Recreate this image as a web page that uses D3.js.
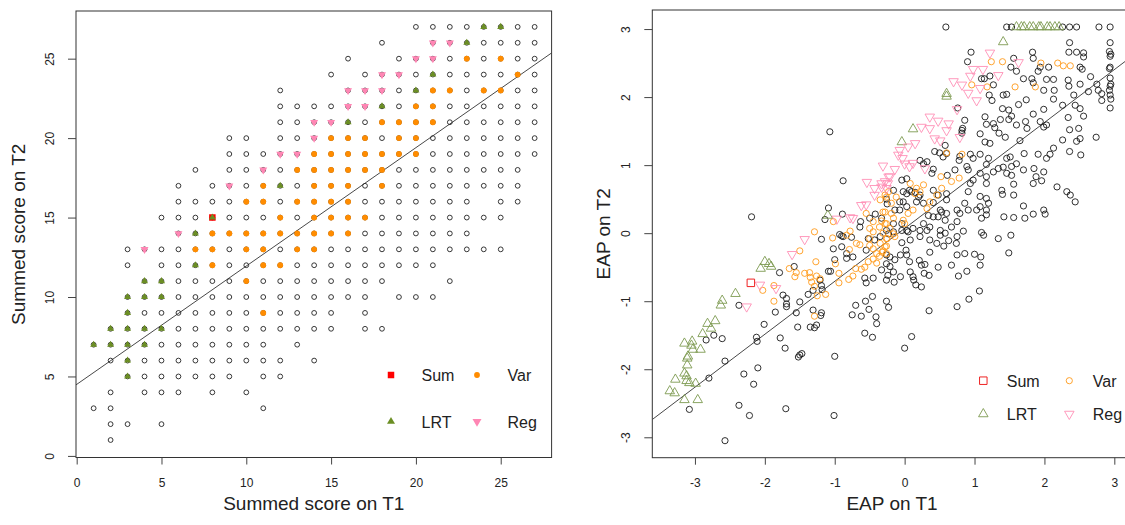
<!DOCTYPE html>
<html>
<head>
<meta charset="utf-8">
<script src="https://cdn.jsdelivr.net/npm/d3@7"></script>
<style>
  body { margin: 0; background: #fff; }
  svg text { font-family: "Liberation Sans", Arial, sans-serif; fill: #222; }
</style>
</head>
<body>
<svg id="chart" width="1125" height="525"></svg>
<script>
// ---------- left panel: summed scores, rows are [T2 score, [T1 scores]] ----------
const sumGridRows = [
  [27, [20,21,22,23,24,25,26,27]],
  [26, [18,21,22,23,24,25,26,27]],
  [25, [16,19,20,21,22,23,24,25,26,27]],
  [24, [15,17,18,19,20,21,22,23,24,25,26,27]],
  [23, [12,16,17,18,19,20,21,22,23,24,25,26,27]],
  [22, [12,13,14,15,16,17,18,19,20,21,22,23,24,25,26,27]],
  [21, [12,13,14,15,16,17,18,19,20,21,22,23,24,25,26,27]],
  [20, [9,10,12,13,14,15,16,17,18,19,20,21,22,23,24,25,26,27]],
  [19, [9,10,11,12,13,14,15,16,17,18,19,20,21,22,23,24,25,26,27]],
  [18, [7,9,10,11,12,13,14,15,16,17,18,19,20,21,22,23,24,25,26]],
  [17, [6,8,9,10,11,12,13,14,15,16,17,18,19,20,21,22,23,24,25,26]],
  [16, [6,7,8,9,10,11,12,13,14,15,16,17,18,19,20,21,22,23,25,26]],
  [15, [5,6,7,8,9,10,11,12,13,14,15,16,17,18,19,20,21,22,23,24,25]],
  [14, [6,7,8,9,10,11,12,13,14,15,16,17,18,19,20,21,22,23]],
  [13, [3,4,5,6,7,8,9,10,11,12,13,14,15,16,17,18,19,20,21,22,23,24,25]],
  [12, [3,5,6,7,8,9,10,11,12,13,14,15,16,17,18,19,20,21]],
  [11, [4,5,6,7,8,9,10,11,12,13,14,15,16,17,18,22]],
  [10, [3,4,5,6,7,8,9,10,11,12,13,14,15,16,17,19,20,21]],
  [9,  [3,4,5,6,7,8,9,10,11,12,13,14,15,17]],
  [8,  [2,3,4,5,6,7,8,9,10,11,12,13,14,15,17,18]],
  [7,  [1,2,3,4,5,6,7,8,9,10,11,13]],
  [6,  [2,3,4,5,6,7,8,9,10,11,12,14]],
  [5,  [3,4,5,6,7,8,9,11,12]],
  [4,  [2,4,5,6,8,10]],
  [3,  [1,2,11]],
  [2,  [2,3,5]],
  [1,  [2]]
];
const sumVarRows = [
  [25, [23,25]], [24, [26]], [23, [21,22,24,25]], [22, [20,21]],
  [21, [18,19,20,21]], [20, [15,16,17,19,20]], [19, [14,15,16,17,18,19,20]],
  [18, [13,14,15,16,17,18]], [17, [11,14,15,16,18]], [16, [10,11,13,14,15,16]],
  [15, [12,14,15,16,17]], [14, [8,9,10,11,12,13,14,15,16]],
  [13, [7,8,10,11,13,14]], [12, [8,11,12]], [11, [10]], [9, [11]]
];
const sumLRTRows = [
  [27, [24,25]], [26, [23]], [24, [21]], [23, [20]], [22, [18]], [21, [16]],
  [17, [12]], [15, [8]], [14, [7]], [12, [7]], [11, [4,5]], [10, [3,4,5]],
  [9, [3]], [8, [2,3,4,5]], [7, [1,2,3,4]], [6, [3]], [5, [3]]
];
const sumRegRows = [
  [26, [21,22]], [25, [20,21]], [24, [18,19]], [23, [16,17,18]], [22, [16,17]],
  [21, [14,15]], [20, [14]], [19, [12,13]], [18, [11]], [17, [9]], [14, [6]], [13, [4]]
];
const sumSumPts = [[8, 15]];
const sumTicks = [0, 5, 10, 15, 20, 25];
const sumFit = { intercept: 4.5, slope: 0.745 };

// ---------- right panel: EAP estimates [T1, T2] ----------
const eapOpen = [
  [-1.07,1.49],[-0.88,0.77],[-2.19,0.24],[-1.09,0.37],[-1.14,0.20],[-0.89,0.28],[-0.63,0.17],[-0.64,0.09],
  [-0.42,0.28],[-0.26,0.50],[-0.25,0.43],[-0.50,0.22],[-0.33,0.22],[-0.88,-0.05],[-1.19,-0.09],[-0.93,-0.02],
  [-0.76,-0.06],[-0.26,0.04],[-0.35,-0.05],[-0.43,-0.10],[-0.52,-0.08],
  [-0.90,-0.04],[-1.02,-0.23],[-0.90,-0.20],[-1.00,-0.39],[-0.83,-0.37],[-0.74,-0.35],[-0.83,-0.30],[-0.55,-0.25],
  [-0.23,-0.01],[-0.26,-0.32],[-0.33,-0.54],[-0.26,-0.69],[-0.45,-0.66],[-0.57,-0.66],[-0.55,-0.73],[-0.46,-0.93],
  [-0.51,-1.12],[-0.41,-1.23],[-0.40,-1.33],[-0.70,-1.06],[-0.75,-1.20],[-0.62,-1.22],[-0.56,-1.00],[-0.26,-1.00],
  [-0.23,-1.09],[-0.57,-1.47],[-0.46,-1.53],[-1.09,-0.56],[-1.06,-0.56],[-1.21,-0.69],[-1.19,-0.77],[-1.18,-0.83],
  [-1.31,-0.84],[-1.38,-0.90],[-1.58,-0.49],[-1.79,-0.58],[-1.74,-0.91],[-1.69,-0.96],[-1.69,-1.04],[-1.69,-1.08],
  [-1.50,-1.01],[-1.55,-1.17],[-1.85,-1.16],[-1.31,-1.13],[-1.19,-1.17],[-1.20,-1.21],[-1.35,-1.38],[-1.26,-1.35],
  [-1.29,-1.39],[-1.53,-1.38],[-2.01,-1.34],[-2.12,-1.53],[-2.11,-1.59],[-2.37,-1.06],[-2.61,-1.55],[-2.73,-1.50],
  [-2.84,-1.57],[-2.57,-1.88],[-2.80,-2.13],[-1.78,-1.54],[-1.71,-1.69],[-1.52,-1.82],[-1.50,-1.79],[-1.47,-1.77],
  [-1.00,-1.81],[-2.10,-1.98],[-2.30,-2.07],[-2.16,-2.22],[-2.37,-2.53],[-2.22,-2.68],[-3.08,-2.59],[-1.70,-2.58],
  [-1.01,-2.68],[-2.57,-3.05],
  [0.05,0.02],[0.51,-0.03],[0.75,-0.05],[0.84,0.03],[1.10,0.01],[1.13,-0.03],[1.34,-0.08],[1.52,-0.03],
  [1.49,-0.29],[-0.04,-0.14],[-0.06,-0.32],[0.03,-0.32],[0.02,-0.25],[0.07,-0.42],[-0.14,-0.39],[-0.21,-0.35],
  [-0.26,-0.45],[-0.21,-0.49],[-0.16,-0.57],[-0.24,-0.62],[-0.15,-0.72],[-0.06,-0.64],[0.08,-0.57],[0.12,-0.64],
  [0.13,-0.69],[0.16,-0.76],[0.24,-0.79],[0.21,-0.40],[0.24,-0.47],[0.29,-0.46],[0.28,-0.59],[0.35,-0.62],
  [0.36,-0.28],[0.48,-0.50],[0.56,-0.19],[0.63,-0.11],[0.74,-0.15],[0.67,-0.47],[0.75,-0.32],[0.86,-0.30],
  [1.00,-0.31],[1.09,-0.35],[1.08,-0.47],[0.89,-0.56],[0.77,-0.63],[1.07,-0.85],[0.92,-0.97],[0.75,-1.08],
  [0.35,-1.14],[0.10,-1.52],[0.00,-1.69],
  [0.59,3.03],[1.46,3.03],[1.53,3.03],[2.26,3.03],[2.36,3.03],[2.46,3.03],[2.78,3.03],[2.94,3.03],
  [2.94,2.80],[2.93,2.67],[2.95,2.63],[2.94,2.60],[2.94,2.44],[2.93,2.42],[2.94,2.28],[2.95,2.19],
  [2.94,2.16],[2.93,2.10],[2.94,2.03],[2.95,1.97],[2.94,1.84],[2.82,2.05],[2.82,1.95],
  [2.36,2.80],[2.35,2.66],[2.46,2.66],[2.56,2.65],[2.56,2.59],[2.51,2.44],[2.54,2.41],[1.83,2.66],
  [1.84,2.57],[1.56,2.57],[1.52,2.44],[1.60,2.38],[0.95,2.66],[0.90,2.52],[1.10,2.27],[1.22,2.31],
  [1.94,2.44],[2.06,2.44],[1.91,2.38],[2.13,2.26],[2.03,2.26],[2.34,2.25],[2.35,2.16],[2.51,2.19],
  [2.66,2.30],[2.75,2.19],[2.77,2.10],[2.63,2.08],[2.42,2.03],[2.26,1.88],[2.13,1.97],[2.14,2.10],
  [1.99,2.10],[1.84,2.21],[1.82,2.27],[1.70,2.27],[1.74,1.96],[1.63,1.89],[1.84,1.75],[1.99,1.82],
  [2.34,1.70],[2.56,1.72],[2.51,1.83],[2.44,1.88],[2.36,1.52],[2.49,1.54],[2.51,1.39],[2.46,1.35],
  [2.26,1.37],[2.36,1.20],[2.52,1.15],[2.74,1.41],[2.18,0.68],[2.32,0.61],[2.37,0.56],[2.44,0.46],
  [1.27,2.18],[1.41,2.03],[1.46,2.04],[1.21,2.03],[1.25,1.95],[1.14,2.27],[1.40,1.83],[1.49,1.81],
  [1.53,1.72],[1.49,1.67],[1.60,1.59],[1.73,1.64],[1.75,1.54],[1.94,1.64],[1.99,1.56],[2.03,1.59],
  [1.37,1.67],[1.27,1.61],[1.29,1.55],[1.35,1.47],[1.44,1.41],[1.17,1.60],[1.15,1.71],[1.08,1.46],
  [1.15,1.34],[1.22,1.32],[0.86,1.66],[0.83,1.54],[0.82,1.47],[1.65,1.36],[1.71,1.17],[1.91,1.16],
  [2.08,1.16],[2.03,1.10],[2.13,1.25],[1.51,1.12],[1.46,1.10],[1.60,1.02],[1.53,0.98],[1.46,0.88],
  [1.41,0.97],[1.34,0.95],[1.27,0.90],[1.17,1.01],[1.20,1.10],[1.08,1.16],[0.94,1.16],[0.98,1.10],
  [0.79,1.13],[0.78,1.07],[0.58,1.29],[0.50,1.18],[0.43,1.20],[0.60,1.17],[0.61,0.85],[0.41,0.94],
  [0.32,1.05],[0.22,1.07],[0.27,1.02],[0.72,0.93],[0.89,0.98],[0.91,0.93],[1.08,0.88],[1.17,0.83],
  [1.17,0.73],[0.98,0.78],[0.94,0.73],[0.91,0.61],[1.08,0.54],[1.17,0.51],[1.20,0.44],[1.08,0.39],
  [1.03,0.34],[1.17,0.34],[1.17,0.27],[1.10,0.22],
  [1.42,0.24],[1.56,0.23],[1.72,0.22],[1.84,0.28],[1.99,0.34],[2.01,0.28],[1.39,0.63],[1.40,0.57],
  [1.56,0.56],[1.70,0.40],[1.56,0.72],[1.70,0.93],[1.85,0.95],[1.99,0.90],[1.96,0.77],[1.84,0.73],
  [1.88,0.83],[1.53,0.85],
  [0.76,1.84],[0.82,1.51],[0.55,1.12],[0.39,0.88],[0.41,0.45],[0.51,0.34],[0.60,0.29],[0.75,0.34],
  [0.79,0.29],[0.48,0.24],[0.58,0.19],[0.75,0.17],[0.91,0.34],[0.86,0.44],[0.67,0.09],[0.51,0.04],
  [0.58,0.00],[0.36,0.09],[0.27,0.14],[0.34,0.26],[0.22,0.04],[0.12,0.07],[0.03,0.04],[-0.04,0.14],
  [-0.16,0.02],[-0.07,0.34],[-0.02,0.46],[0.03,0.58],[0.10,0.61],[0.03,0.80],[-0.04,0.78],[0.20,0.53],
  [0.41,0.63],[0.60,0.58],[0.27,0.44],
  [-0.16,0.63],[-0.02,0.61],[0.07,0.63],[0.15,0.60],[0.22,0.56],[0.17,0.46],[-0.07,0.46],[0.03,0.39],
  [-0.14,0.34],[-0.16,0.14],[-0.04,0.04],[0.08,-0.10],[0.22,-0.05],[0.32,0.04],[0.36,-0.10],[0.46,-0.15],
  [0.41,0.24],[0.53,0.31],[0.60,0.49],[0.48,0.56]
];
const eapVar = [
  [-0.28,0.56],[-0.35,0.49],[-0.23,0.61],[-0.55,0.29],[-0.45,0.17],[-0.33,0.18],[-0.50,0.07],[-0.45,0.02],
  [-0.36,0.09],[-0.26,0.14],[-1.29,0.02],[-1.02,0.17],[-0.78,0.03],[-1.03,-0.07],[-0.83,-0.03],[-0.28,0.31],
  [-1.50,-0.26],[-1.65,-0.52],[-1.55,-0.58],[-1.57,-0.64],[-1.43,-0.59],[-1.36,-0.58],[-1.27,-0.42],[-1.35,-0.65],
  [-1.26,-0.63],[-1.33,-0.72],[-1.21,-0.67],[-1.29,-0.78],[-1.13,-0.90],[-1.25,-0.92],[-1.87,-0.77],[-2.03,-0.84],
  [-1.87,-1.00],[-1.29,-1.22],[-0.99,-0.45],[-0.94,-0.59],[-0.94,-0.73],[-0.74,-0.63],[-0.80,-0.68],[-0.79,-0.24],
  [-0.69,-0.15],[-0.64,-0.17],[-0.50,-0.18],[-0.45,-0.23],[-0.40,-0.30],[-0.36,-0.34],[-0.45,-0.38],[-0.52,-0.42],
  [-0.57,-0.50],[-0.62,-0.53],[-0.70,-0.52],[-0.40,-0.44],[-0.31,-0.26],[-0.26,-0.19],[-0.35,-0.15],[-0.50,-0.08],
  [-0.28,-0.20],[-0.25,-0.08],[-0.16,-0.01],[-0.26,-0.30],[-0.32,-0.28],
  [1.24,2.52],[1.40,2.52],[1.95,2.50],[2.19,2.50],[2.27,2.46],[2.37,2.46],[1.58,2.15],[1.87,2.15],
  [1.18,2.15],[0.96,2.18],[0.60,1.18],[0.82,1.16],[0.52,0.83],[0.78,0.81],[0.67,0.76],[0.27,0.71],
  [0.15,0.58],[0.22,0.61],[0.36,0.46],[0.32,0.36],[0.12,0.34],[0.05,0.29],[-0.02,0.19],[0.00,0.14],
  [-0.12,0.53],[-0.19,0.44],[-0.26,0.53],[-0.31,0.31],[-0.19,0.29],[-0.16,0.22],[-0.28,0.14],[-0.21,0.07],
  [-0.31,0.00],[-0.14,-0.05],[-0.26,-0.08],[0.53,0.66],[0.46,0.56],[0.17,0.66],[0.08,0.73]
];
const eapLRT = [
  [-2.00,-0.42],[-1.94,-0.45],[-2.06,-0.52],[-1.91,-0.49],[-2.42,-0.89],[-2.61,-0.99],[-2.63,-1.06],[-2.82,-1.33],
  [-2.71,-1.29],[-2.77,-1.40],[-2.89,-1.48],[-3.04,-1.59],[-3.15,-1.62],[-3.05,-1.65],[-2.92,-1.71],[-3.03,-1.71],
  [-3.10,-1.81],[-3.11,-1.84],[-3.11,-1.94],[-3.15,-2.06],[-3.12,-2.10],[-3.28,-2.15],[-3.12,-2.17],[-3.08,-2.20],
  [-2.99,-2.21],[-3.36,-2.32],[-3.29,-2.35],[-3.15,-2.45],[-2.96,-2.45],[-1.10,0.26],[1.41,2.81],[0.60,2.05],
  [0.60,2.01],[0.12,1.53],[-0.04,1.34],
  [1.60,3.03],[1.67,3.03],[1.71,3.03],[1.79,3.03],[1.84,3.03],[1.92,3.03],[1.95,3.03],[2.04,3.03],
  [2.08,3.03],[2.15,3.03],[2.21,3.03]
];
const eapReg = [
  [-0.31,0.99],[-0.54,0.75],[-0.43,0.66],[-0.33,0.73],[-0.23,0.83],[-0.43,0.56],[-0.62,0.41],[-0.55,0.42],
  [-0.97,0.21],[-0.78,0.23],[-0.74,0.22],[-1.43,-0.09],[-1.61,-0.31],[-2.07,-0.76],[-1.84,-0.81],[-2.26,-1.08],
  [1.22,2.65],[1.63,2.51],[0.98,2.41],[1.12,2.41],[1.34,2.32],[0.94,2.31],[0.82,2.18],[0.70,2.23],
  [0.91,2.06],[1.03,1.95],[1.08,2.13],[0.75,1.82],[0.36,1.71],[0.48,1.65],[0.63,1.61],[0.24,1.56],
  [0.36,1.54],[0.60,1.51],[0.79,1.41],[0.43,1.39],[0.51,1.36],[0.15,1.32],[0.05,1.27],[-0.07,1.22],
  [-0.09,1.15],[-0.03,1.10],[0.00,1.02],[0.12,1.03],[0.07,0.98],[0.29,0.95],[-0.14,0.94],[-0.21,0.83],
  [-0.28,0.76],[-0.24,0.73],[-0.33,0.68],[-0.26,0.66]
];
const eapSum = [[-2.20,-0.73]];
const eapTicks = [-3, -2, -1, 0, 1, 2, 3];
const eapFit = { intercept: 0.07, slope: 0.778 };

const legendNames = ["Sum", "Var", "LRT", "Reg"];

// ---------- helpers ----------
const fromRows = (r) => r.flatMap(([y, xs]) => xs.map((x) => [x, y]));

function triUp(s) {
  const h = (s * Math.sqrt(3)) / 2;
  return `M0,${-(2 * h) / 3}L${s / 2},${h / 3}L${-s / 2},${h / 3}Z`;
}
function triDown(s) {
  const h = (s * Math.sqrt(3)) / 2;
  return `M0,${(2 * h) / 3}L${s / 2},${-h / 3}L${-s / 2},${-h / 3}Z`;
}
function square(s) {
  return `M${-s / 2},${-s / 2}h${s}v${s}h${-s}Z`;
}
function circle(r) {
  return d3.arc()({ innerRadius: 0, outerRadius: r, startAngle: 0, endAngle: 2 * Math.PI });
}

const svg = d3.select("#chart");

function drawPanel(p) {
  const { x, y, id } = p;
  const [x0, x1] = x.range();
  const [y0, y1] = y.range();

  svg.append("clipPath").attr("id", id)
    .append("rect").attr("x", x0).attr("y", y1).attr("width", x1 - x0).attr("height", y0 - y1);

  const g = svg.append("g").attr("clip-path", `url(#${id})`);

  // fitted line
  const [d0, d1] = x.domain();
  g.append("line")
    .attr("x1", x(d0)).attr("y1", y(p.fit.intercept + p.fit.slope * d0))
    .attr("x2", x(d1)).attr("y2", y(p.fit.intercept + p.fit.slope * d1))
    .attr("stroke", "#333").attr("stroke-width", 0.9);

  p.layers.forEach((l) => {
    g.append("g").selectAll("path")
      .data(l.data)
      .join("path")
      .attr("transform", (d) => `translate(${x(d[0])},${y(d[1])})`)
      .attr("d", l.shape)
      .attr("fill", l.fill || "none")
      .attr("stroke", l.stroke || "none")
      .attr("stroke-width", l.sw || 1);
  });

  // box
  svg.append("rect")
    .attr("x", x0).attr("y", y1).attr("width", x1 - x0).attr("height", y0 - y1)
    .attr("fill", "none").attr("stroke", "#333").attr("stroke-width", 1);

  // axes
  svg.append("g")
    .attr("transform", `translate(0,${y0})`)
    .call(d3.axisBottom(x).tickValues(p.ticksX).tickSize(7).tickFormat(d3.format("d")))
    .call((a) => a.select(".domain").remove())
    .call((a) => a.selectAll(".tick line").attr("stroke", "#444"))
    .call((a) => a.selectAll(".tick text")
      .attr("y", 29).attr("dy", 0)
      .attr("font-size", 12).attr("fill", "#333")
      .style("font-family", "Liberation Sans, Arial, sans-serif")
      .text((d) => (d < 0 ? "-" + Math.abs(d) : d)));

  svg.append("g")
    .attr("transform", `translate(${x0},0)`)
    .call(d3.axisLeft(y).tickValues(p.ticksY).tickSize(8))
    .call((a) => a.select(".domain").remove())
    .call((a) => a.selectAll(".tick line").attr("stroke", "#444"))
    .call((a) => a.selectAll(".tick text")
      .attr("x", 0).attr("dy", 0).attr("text-anchor", "middle")
      .attr("transform", "translate(-22,0) rotate(-90)")
      .attr("font-size", 12).attr("fill", "#333")
      .style("font-family", "Liberation Sans, Arial, sans-serif")
      .text((d) => (d < 0 ? "-" + Math.abs(d) : d)));

  // titles
  svg.append("text")
    .attr("x", (x0 + x1) / 2).attr("y", 510)
    .attr("text-anchor", "middle").attr("font-size", 19)
    .text(p.titleX);
  svg.append("text")
    .attr("transform", `translate(${p.titleYx},${(y0 + y1) / 2}) rotate(-90)`)
    .attr("text-anchor", "middle").attr("font-size", 19)
    .text(p.titleY);

  // legend
  const lg = svg.append("g");
  legendNames.forEach((name, i) => {
    const l = p.layers.find((d) => d.name === name);
    const cx = p.legend.cols[i % 2];
    const cy = p.legend.rows[Math.floor(i / 2)];
    lg.append("path")
      .attr("transform", `translate(${cx},${cy})`)
      .attr("d", l.legendShape || l.shape)
      .attr("fill", l.fill || "none")
      .attr("stroke", l.stroke || "none")
      .attr("stroke-width", l.sw || 1);
    lg.append("text")
      .attr("x", cx + p.legend.gap).attr("y", cy + 6)
      .attr("font-size", 16)
      .text(name);
  });
}

// ---------- left panel ----------
drawPanel({
  id: "clipL",
  x: d3.scaleLinear().domain([-0.04, 28]).range([76, 551.6]),
  y: d3.scaleLinear().domain([-0.1, 28]).range([457.5, 11]),
  ticksX: sumTicks,
  ticksY: sumTicks,
  fit: sumFit,
  titleX: "Summed score on T1",
  titleY: "Summed score on T2",
  titleYx: 25,
  legend: { cols: [391, 477], rows: [375, 421.5], gap: 30.5 },
  layers: [
    { name: "all", data: fromRows(sumGridRows), shape: circle(2.4), stroke: "#222", sw: 0.9 },
    { name: "Sum", data: sumSumPts, shape: square(6.5), fill: "#ff0000" },
    { name: "Var", data: fromRows(sumVarRows), shape: circle(2.9), fill: "#ff8c00" },
    { name: "LRT", data: fromRows(sumLRTRows), shape: triUp(7), fill: "#6b8e23", legendShape: triUp(8) },
    { name: "Reg", data: fromRows(sumRegRows), shape: triDown(8), fill: "#ff86b4", legendShape: triDown(9) }
  ]
});

// ---------- right panel ----------
drawPanel({
  id: "clipR",
  x: d3.scaleLinear().domain([-3.61, 3.25]).range([652.3, 1131.8]),
  y: d3.scaleLinear().domain([-3.30, 3.28]).range([457.7, 10]),
  ticksX: eapTicks,
  ticksY: eapTicks,
  fit: eapFit,
  titleX: "EAP on T1",
  titleY: "EAP on T2",
  titleYx: 610,
  legend: { cols: [983.3, 1069.3], rows: [380.7, 414], gap: 23.5 },
  layers: [
    { name: "all", data: eapOpen, shape: circle(3.1), stroke: "#1a1a1a", sw: 0.9 },
    { name: "Var", data: eapVar, shape: circle(3.1), stroke: "#ff9a1a", sw: 0.9 },
    { name: "LRT", data: eapLRT, shape: triUp(9.5), stroke: "#7d9a50", sw: 0.9 },
    { name: "Reg", data: eapReg, shape: triDown(9.5), stroke: "#ff8fb5", sw: 0.9 },
    { name: "Sum", data: eapSum, shape: square(7.5), stroke: "#ee2222", sw: 1 }
  ]
});
</script>
</body>
</html>
